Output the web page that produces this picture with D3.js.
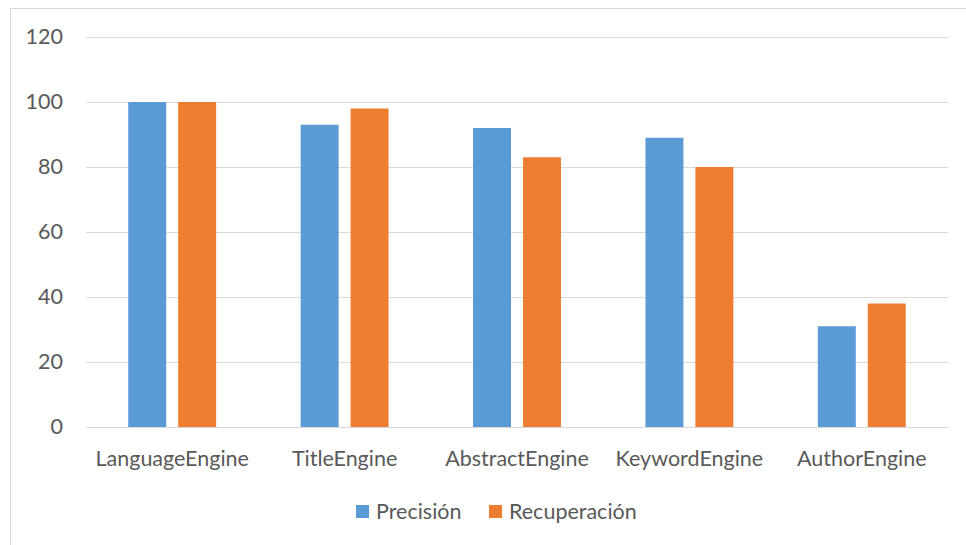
<!DOCTYPE html>
<html><head><meta charset="utf-8">
<script src="https://cdn.jsdelivr.net/npm/d3@7"></script>
<style>body{margin:0;background:#fff}svg{display:block}text{font-family:Lato,"Open Sans",sans-serif;fill:#595959}</style>
</head><body><svg id="c" width="966" height="545"></svg>
<script>
const categories = ["LanguageEngine","TitleEngine","AbstractEngine","KeywordEngine","AuthorEngine"];
const seriesNames = ["Precisión","Recuperación"];
const precision = [100,93,92,89,31];
const recall = [100,98,83,80,38];
const yTicks = [0,20,40,60,80,100,120];
const colors = ["#5B9BD5","#ED7D31"];
const fs = "21.5px";

const svg = d3.select("#c");
svg.append("rect").attr("x",10.5).attr("y",8.5).attr("width",966).attr("height",545).attr("fill","#fff").attr("stroke","#d9d9d9");

const y = d3.scaleLinear().domain([0,120]).range([427,37]);
const x0 = d3.scaleBand().domain(categories).range([86,948]).paddingInner(0.49).paddingOuter(0.245);
const x1 = d3.scaleBand().domain(seriesNames).range([0,x0.bandwidth()]).paddingInner(0.24);

const yAxis = d3.axisLeft(y).tickValues(yTicks).tickSize(-(948-86)).tickPadding(23);
const gy = svg.append("g").attr("transform","translate(86,0)").call(yAxis);
gy.select(".domain").remove();
gy.selectAll(".tick line").attr("stroke","#d9d9d9").attr("stroke-width",1);
gy.selectAll(".tick text").style("font-size",fs).attr("fill","#595959");

const data = categories.map((c,i)=>({c, vals:[precision[i],recall[i]]}));
const g = svg.append("g");
g.selectAll("g.cat").data(data).join("g").attr("class","cat")
  .attr("transform",d=>`translate(${x0(d.c)},0)`)
  .selectAll("rect").data(d=>d.vals.map((v,j)=>({s:seriesNames[j],v,j})))
  .join("rect")
  .attr("x",d=>x1(d.s)).attr("width",x1.bandwidth())
  .attr("y",d=>y(d.v)).attr("height",d=>y(0)-y(d.v))
  .attr("fill",d=>colors[d.j]);

const xAxis = d3.axisBottom(x0).tickSize(0).tickPadding(24);
const gx = svg.append("g").attr("transform","translate(0,427)").call(xAxis);
gx.select(".domain").attr("stroke","#d9d9d9");
gx.selectAll(".tick text").style("font-size",fs).attr("fill","#595959");

const legend = svg.append("g");
const lx = [356,489];
seriesNames.forEach((s,i)=>{
  legend.append("rect").attr("x",lx[i]).attr("y",505).attr("width",13).attr("height",13).attr("fill",colors[i]);
  legend.append("text").attr("x",lx[i]+20).attr("y",519).style("font-size",fs).text(s);
});
</script></body></html>
